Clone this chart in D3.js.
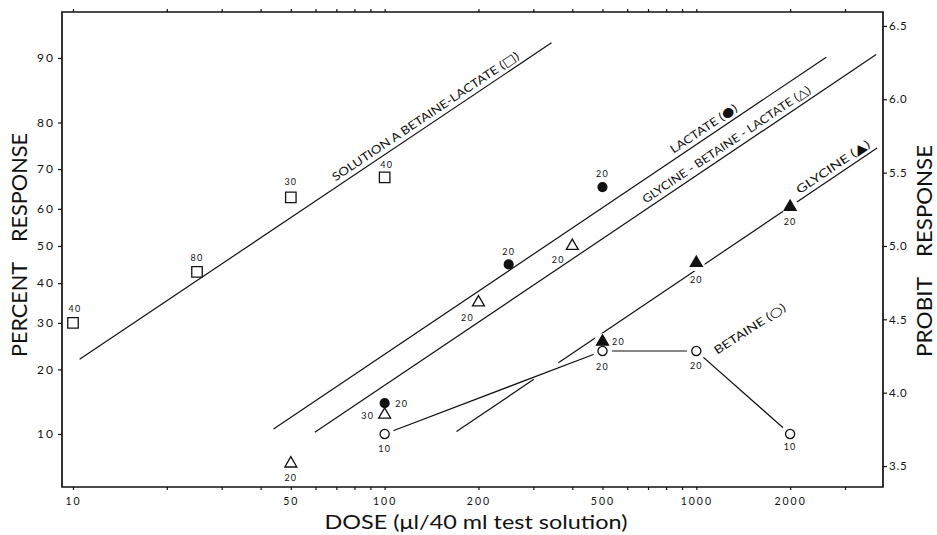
<!DOCTYPE html>
<html><head><meta charset="utf-8">
<script src="https://cdn.jsdelivr.net/npm/d3@7"></script>
<style>
body{margin:0;background:#fff}
svg{display:block}
text{font-family:Lato,"DejaVu Sans",sans-serif;fill:#111}
</style>
</head><body>
<svg id="c" width="937" height="535"></svg>
<script>
// ---------------- data ----------------
const percentTicks = [10,20,30,40,50,60,70,80,90];
const probitTicks = [3.5,4.0,4.5,5.0,5.5,6.0,6.5];
const doseTicks = [10,50,100,200,500,1000,2000];
const doseMinorTicks = [20,30,40,60,70,80,90,300,400,600,700,800,900,3000];

// Solution A betaine-lactate (open squares)
const solADose = [10,25,50,100];
const solAPct  = [30,43,63,68];
const solAN    = [40,80,30,40];
// Lactate (filled circles)
const lactDose = [100,250,500];
const lactPct  = [14.2,45,65.6];
const lactN    = [20,20,20];
// Glycine-betaine-lactate (open triangles)
const gblDose = [50,100,200,400];
const gblPct  = [6.9,12.5,35,50];
const gblN    = [20,30,20,20];
// Glycine (filled triangles)
const glyDose = [500,1000,2000];
const glyPct  = [25.7,45.4,60.5];
const glyN    = [20,20,20];
// Betaine (open circles)
const betDose = [100,500,1000,2000];
const betPct  = [10,23.7,23.7,10];
const betN    = [10,20,20,10];

// fitted probit lines: endpoints [dose, percent]
const solAFit = [[10.5,22],[343,91.7]];
const lactFit = [[44,10.6],[2612,90.1]];
const gblFit  = [[59.7,10.2],[3776,90.4]];
const glyFit  = [[170,10.3],[3802,74.8]];
const glyGap  = [301,361];

// ---------------- layout ----------------
const solALab = [[2,-14],[0,-14],[0,-15],[2,-13]];
const lactLab = [[17,1],[0,-13],[0,-13]];
const gblLab  = [[0,14],[-17,1],[-11,15],[-14,14]];
const glyLab  = [[16,0],[0,17],[0,15]];
const betLab  = [[0,15],[0,16],[0,15],[0,13]];

function probit(p){
  const a=[-3.969683028665376e+01,2.209460984245205e+02,-2.759285104469687e+02,1.383577518672690e+02,-3.066479806614716e+01,2.506628277459239e+00];
  const b=[-5.447609879822406e+01,1.615858368580409e+02,-1.556989798598866e+02,6.680131188771972e+01,-1.328068155288572e+01];
  const c=[-7.784894002430293e-03,-3.223964580411365e-01,-2.400758277161838e+00,-2.549732539343734e+00,4.374664141464968e+00,2.938163982698783e+00];
  const d=[7.784695709041462e-03,3.224671290700398e-01,2.445134137142996e+00,3.754408661907416e+00];
  const pl=0.02425, ph=1-pl; let q,r,z;
  if(p<pl){q=Math.sqrt(-2*Math.log(p)); z=(((((c[0]*q+c[1])*q+c[2])*q+c[3])*q+c[4])*q+c[5])/((((d[0]*q+d[1])*q+d[2])*q+d[3])*q+1);}
  else if(p<=ph){q=p-0.5;r=q*q; z=(((((a[0]*r+a[1])*r+a[2])*r+a[3])*r+a[4])*r+a[5])*q/(((((b[0]*r+b[1])*r+b[2])*r+b[3])*r+b[4])*r+1);}
  else {q=Math.sqrt(-2*Math.log(1-p)); z=-(((((c[0]*q+c[1])*q+c[2])*q+c[3])*q+c[4])*q+c[5])/((((d[0]*q+d[1])*q+d[2])*q+d[3])*q+1);}
  return z+5;
}

const L=62,R=883,T=12,B=487;
const x = d3.scaleLog().domain([9.22,3972]).range([L,R]);
const y = d3.scaleLinear().domain([3.357,6.595]).range([B,T]);
const py = p => y(probit(p/100));

const svg = d3.select("#c");
svg.append("rect").attr("width",937).attr("height",535).attr("fill","#fff");

// axes
function styleAxis(g, fs, ls){
  g.select(".domain").remove();
  g.selectAll("line").attr("stroke","#111").attr("stroke-width",1.2);
  g.selectAll("text").style("font-size",fs+"px").style("letter-spacing",ls+"px").attr("fill","#111").style("font-family","Lato, 'DejaVu Sans', sans-serif");
}
const ax = svg.append("g").attr("transform",`translate(${L},0)`)
  .call(d3.axisLeft(y).tickValues(percentTicks.map(p=>probit(p/100))).tickFormat((d,i)=>percentTicks[i]).tickSize(4).tickPadding(3));
styleAxis(ax,12,2);
const ar = svg.append("g").attr("transform",`translate(${R},0)`)
  .call(d3.axisRight(y).tickValues(probitTicks).tickFormat(d3.format(".1f")).tickSize(4).tickPadding(2));
styleAxis(ar,11.5,0.8);
const ab = svg.append("g").attr("transform",`translate(0,${B})`)
  .call(d3.axisBottom(x).tickValues(doseTicks).tickFormat(d=>d).tickSize(3).tickPadding(8));
styleAxis(ab,10.5,2);
const abm = svg.append("g").attr("transform",`translate(0,${B})`)
  .call(d3.axisBottom(x).tickValues(doseMinorTicks).tickFormat("").tickSize(3));
styleAxis(abm,10,0);
const at = svg.append("g").attr("transform",`translate(0,${T})`)
  .call(d3.axisTop(x).tickValues(doseTicks.concat(doseMinorTicks)).tickFormat("").tickSize(3));
styleAxis(at,10,0);

// frame
svg.append("path").attr("d",`M${L},${T}H${R}V${B}H${L}Z`).attr("fill","none").attr("stroke","#111").attr("stroke-width",1.7);

// axis titles
function vtitle(txt, cx, cy, len){
  svg.append("text").attr("transform",`translate(${cx},${cy}) rotate(-90)`)
    .attr("text-anchor","middle").attr("dy","0.35em")
    .attr("textLength",len).attr("lengthAdjust","spacingAndGlyphs")
    .style("font-size","21px").text(txt);
}
vtitle("PERCENT",20,309.5,95);
vtitle("RESPONSE",20,187.5,109);
vtitle("PROBIT",925,317,80);
vtitle("RESPONSE",925,201,112);
svg.append("text").attr("x",476).attr("y",529).attr("text-anchor","middle")
  .attr("textLength",303).attr("lengthAdjust","spacingAndGlyphs")
  .style("font-size","20px").text("DOSE (\u03bcl/40 ml test solution)");

// fit lines
const lines = svg.append("g").attr("stroke","#111").attr("stroke-width",1.2).attr("fill","none");
function seg(fit, d0, d1){
  const [p0,p1]=fit;
  const lx0=Math.log10(p0[0]), lx1=Math.log10(p1[0]);
  const pr0=probit(p0[1]/100), pr1=probit(p1[1]/100);
  const at = d => pr0+(Math.log10(d)-lx0)/(lx1-lx0)*(pr1-pr0);
  lines.append("line").attr("x1",x(d0)).attr("y1",y(at(d0))).attr("x2",x(d1)).attr("y2",y(at(d1)));
}
seg(solAFit, solAFit[0][0], solAFit[1][0]);
seg(lactFit, lactFit[0][0], lactFit[1][0]);
seg(gblFit, gblFit[0][0], gblFit[1][0]);
seg(glyFit, glyFit[0][0], glyGap[0]);
seg(glyFit, glyGap[1], glyFit[1][0]);
// betaine connecting line
lines.append("path").attr("d", d3.line().x((d,i)=>x(betDose[i])).y((d,i)=>py(betPct[i]))(betDose));

// halos (white gaps where lines meet markers)
function halos(ds, ps, r){
  svg.append("g").selectAll("circle").data(ds).join("circle")
    .attr("cx",(d,i)=>x(d)).attr("cy",(d,i)=>py(ps[i])).attr("r",r).attr("fill","#fff");
}
halos(betDose, betPct, 9.5);
halos(glyDose, glyPct, 8.5);

// markers
function markers(ds, ps, type, size, filled){
  svg.append("g").selectAll("path").data(ds).join("path")
    .attr("transform",(d,i)=>`translate(${x(d)},${py(ps[i])})`)
    .attr("d", d3.symbol().type(type).size(size))
    .attr("fill", filled ? "#111" : "#fff")
    .attr("stroke","#111").attr("stroke-width",1.3);
}
markers(solADose, solAPct, d3.symbolSquare, 110, false);
markers(lactDose, lactPct, d3.symbolCircle, 62, true);
markers(gblDose, gblPct, d3.symbolTriangle, 62, false);
markers(glyDose, glyPct, d3.symbolTriangle, 62, true);
markers(betDose, betPct, d3.symbolCircle, 66, false);

// sample size labels
function nlabels(ds, ps, ns, off){
  svg.append("g").selectAll("text").data(ds).join("text")
    .attr("x",(d,i)=>x(d)+off[i][0]).attr("y",(d,i)=>py(ps[i])+off[i][1])
    .attr("text-anchor","middle").attr("dy","0.35em")
    .style("font-size","9px").style("letter-spacing","1.2px")
    .text((d,i)=>ns[i]);
}
nlabels(solADose, solAPct, solAN, solALab);
nlabels(lactDose, lactPct, lactN, lactLab);
nlabels(gblDose, gblPct, gblN, gblLab);
nlabels(glyDose, glyPct, glyN, glyLab);
nlabels(betDose, betPct, betN, betLab);

// line labels (text + legend symbol)
function placeLabel(tx, ty, deg, txt, sym, len){
  const t = svg.append("text")
    .attr("transform",`translate(${tx},${ty}) rotate(${deg})`)
    .attr("textLength",len).attr("lengthAdjust","spacingAndGlyphs")
    .style("font-size","11.5px");
  t.append("tspan").text(txt + " (");
  t.append("tspan").style("font-family","'DejaVu Sans',sans-serif").style("font-size","12.5px").text(sym);
  t.append("tspan").text(")");
}
function lineLabel(fit, startDose, offset, txt, sym, len){
  const [p0,p1]=fit;
  const X0=x(p0[0]), Y0=py(p0[1]), X1=x(p1[0]), Y1=py(p1[1]);
  const a=Math.atan2(Y1-Y0,X1-X0);
  const sx=x(startDose), t=(sx-X0)/(X1-X0), sy=Y0+t*(Y1-Y0);
  const nx=Math.sin(a), ny=-Math.cos(a);
  placeLabel(sx+nx*offset, sy+ny*offset, a*180/Math.PI, txt, sym, len);
}
lineLabel(solAFit, 71, 5, "SOLUTION A BETAINE-LACTATE", "\u25a1", 222);
lineLabel(lactFit, 863, 5, "LACTATE", "\u25cf", 78);
lineLabel(gblFit, 702, 5, "GLYCINE - BETAINE - LACTATE", "\u25b3", 200);
lineLabel(glyFit, 2188, 5, "GLYCINE", "\u25b2", 86);
placeLabel(x(1167), py(22.9), -33, "BETAINE", "\u25cb", 83);
</script>
</body></html>
